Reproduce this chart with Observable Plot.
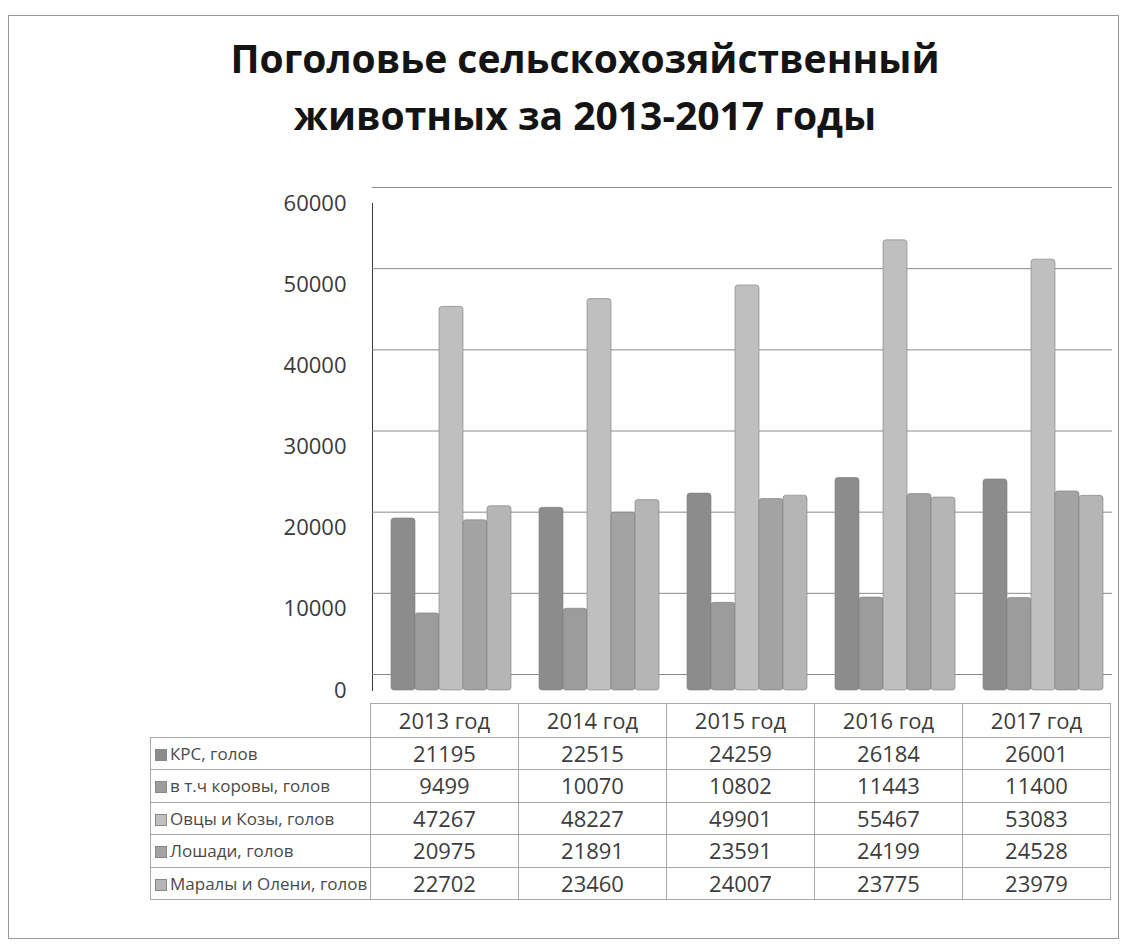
<!DOCTYPE html>
<html>
<head>
<meta charset="utf-8">
<script src="https://cdn.jsdelivr.net/npm/d3@7"></script>
<script src="https://cdn.jsdelivr.net/npm/@observablehq/plot@0.6"></script>
<style>
  body { margin: 0; background: #fff; font-family: "Open Sans", sans-serif; }
  #frame { position: absolute; left: 8px; top: 15px; width: 1111px; height: 924px; border: 1px solid #9a9a9a; box-sizing: border-box; }
  #title { position: absolute; left: 0; top: 29px; width: 1170px; text-align: center; font-weight: 700; font-size: 39px; line-height: 57px; color: #141414; }
  #chart { position: absolute; left: 0; top: 180px; }
  #table { position: absolute; left: 0; top: 0; }
  .cell { position: absolute; box-sizing: border-box; border: 1px solid #a8a8a8; color: #3c3c3c; white-space: nowrap; overflow: visible; }
  .num { text-align: center; font-size: 22px; }
  .lab { text-align: left; font-size: 17px; padding-left: 4px; color: #4a4a4a; }
  .key { display: inline-block; width: 12px; height: 12px; margin-right: 3px; vertical-align: -1px; border: 1px solid #888; box-sizing: border-box; }
</style>
</head>
<body>
<div id="frame"></div>
<div id="title">Поголовье сельскохозяйственный<br>животных за 2013-2017 годы</div>
<div id="chart"></div>
<div id="table"></div>
<script>
// ---- data ----
const years = ["2013 год", "2014 год", "2015 год", "2016 год", "2017 год"];
const seriesNames = ["КРС, голов", "в т.ч коровы, голов", "Овцы и Козы, голов", "Лошади, голов", "Маралы и Олени, голов"];
const krs     = [21195, 22515, 24259, 26184, 26001];
const cows    = [9499, 10070, 10802, 11443, 11400];
const sheep   = [47267, 48227, 49901, 55467, 53083];
const horses  = [20975, 21891, 23591, 24199, 24528];
const marals  = [22702, 23460, 24007, 23775, 23979];
const yTicks  = [0, 10000, 20000, 30000, 40000, 50000, 60000];
const colors  = ["#8c8c8c", "#9c9c9c", "#bfbfbf", "#a3a3a3", "#b5b5b5"];

const seriesValues = [krs, cows, sheep, horses, marals];
const rows = years.flatMap((yr, i) => seriesNames.map((s, j) => ({year: yr, series: s, value: seriesValues[j][i]})));

const chart = Plot.plot({
  width: 1146,
  height: 530,
  marginLeft: 370,
  marginRight: 33,
  marginTop: 23,
  marginBottom: 20,
  style: {fontFamily: "Open Sans", fontSize: "22px", color: "#3a3a3a", background: "transparent"},
  fx: {domain: years, padding: 0, axis: null},
  x: {domain: seriesNames, paddingInner: 0, paddingOuter: 0.55, axis: null},
  y: {domain: [0, 60000], ticks: yTicks, tickSize: 0, tickPadding: 26, label: null, line: true, tickFormat: d3.format("d")},
  color: {domain: seriesNames, range: colors},
  marks: [
    Plot.ruleY(yTicks, {dy: -16, stroke: "#8a8a8a", strokeWidth: 1}),
    Plot.barY(rows, {fx: "year", x: "series", y: "value", fill: "series", dx: 5, inset: 0, stroke: "#7c7c7c", strokeWidth: 0.6, rx: 3})
  ]
});
document.getElementById("chart").appendChild(chart);

// ---- data table aligned with the fx scale ----
const fx = chart.scale("fx");
const step = fx.step;
const start = 370;
const tableLeft = 150;
const headerTop = 703, headerH = 34, rowH = 32.4;
const tbl = document.getElementById("table");
function cell(x, y, w, h, cls, html) {
  const d = document.createElement("div");
  d.className = "cell " + cls;
  d.style.left = x + "px"; d.style.top = y + "px";
  d.style.width = (w + 1) + "px"; d.style.height = (h + 1) + "px";
  d.style.lineHeight = (h - 1) + "px";
  d.innerHTML = html;
  tbl.appendChild(d);
}
years.forEach((yr, i) => cell(start + i * step, headerTop, step, headerH, "num", yr));
seriesNames.forEach((s, j) => {
  const top = headerTop + headerH + j * rowH;
  cell(tableLeft, top, start - tableLeft, rowH, "lab", `<span class="key" style="background:${colors[j]}"></span>${s}`);
  years.forEach((yr, i) => cell(start + i * step, top, step, rowH, "num", String(seriesValues[j][i])));
});
</script>
</body>
</html>
